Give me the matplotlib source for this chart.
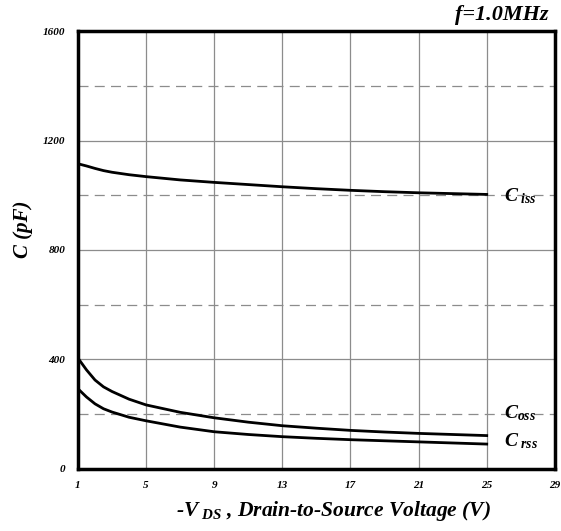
import numpy as np
import matplotlib
matplotlib.use("Agg")
from matplotlib import pyplot as plt

# capacitance vs -Vds
vds = [1, 1.5, 2, 2.5, 3, 4, 5, 7, 9, 11, 13, 15, 17, 19, 21, 23, 25]
ciss = [1115, 1107, 1098, 1090, 1084, 1075, 1068, 1056, 1047, 1039, 1031, 1024, 1018, 1013, 1009, 1006, 1003]
coss = [405, 362, 325, 300, 283, 255, 234, 207, 187, 171, 158, 149, 141, 135, 130, 126, 122]
crss = [293, 263, 238, 220, 208, 189, 176, 153, 136, 126, 118, 112, 107, 103, 99, 95, 91]

x_ticks = [1, 5, 9, 13, 17, 21, 25, 29]
y_ticks = [0, 400, 800, 1200, 1600]
y_dashed = [200, 600, 1000, 1400]

plt.rcParams['font.family'] = ['Liberation Serif', 'DejaVu Serif']
plt.rcParams['mathtext.fontset'] = 'custom'
plt.rcParams['mathtext.it'] = 'Liberation Serif:italic:bold'
plt.rcParams['mathtext.rm'] = 'Liberation Serif:italic:bold'
plt.rcParams['mathtext.bf'] = 'Liberation Serif:italic:bold'

fig = plt.figure(figsize=(5.61, 5.31), dpi=100)
ax = fig.add_axes([0.139, 0.1168, 0.85, 0.8248])

gc = '#8c8c8c'
for xv in x_ticks[1:-1]:
    ax.axvline(xv, color=gc, lw=0.9, zorder=1)
for yv in y_ticks[1:-1]:
    ax.axhline(yv, color=gc, lw=0.9, zorder=1)
for yv in y_dashed:
    ax.axhline(yv, color=gc, lw=0.9, ls=(0, (8, 5)), zorder=1)

for ys in (ciss, coss, crss):
    ax.plot(vds, ys, color='black', lw=2.0, zorder=3)

ax.set_xlim(1, 29)
ax.set_ylim(0, 1600)
ax.set_xticks(x_ticks)
ax.set_yticks(y_ticks)
ax.tick_params(length=0, pad=9)
for lab in ax.get_xticklabels() + ax.get_yticklabels():
    lab.set_fontsize(8)
    lab.set_fontweight('bold')
    lab.set_fontstyle('italic')
for s in ax.spines.values():
    s.set_linewidth(2.5)

ax.text(26.0, 995, r'$C_{\ iss}$', fontsize=14, va='center', ha='left')
ax.text(26.0, 205, r'$C_{oss}$', fontsize=14, va='center', ha='left')
ax.text(26.0, 100, r'$C_{\ rss}$', fontsize=14, va='center', ha='left')

ax.set_ylabel('C (pF)', fontsize=15, fontweight='bold', fontstyle='italic', labelpad=7)
ax.yaxis.label.set_y(0.548)
ax.set_xlabel(r'-$V_{\ DS}$ , Drain-to-Source Voltage (V)', fontsize=15.5,
              fontweight='bold', fontstyle='italic', labelpad=6)
ax.xaxis.label.set_x(0.535)
fig.text(0.978, 0.972, 'f=1.0MHz', fontsize=16, fontweight='bold', fontstyle='italic',
         ha='right', va='center')

fig.savefig('out.png', dpi=100)
